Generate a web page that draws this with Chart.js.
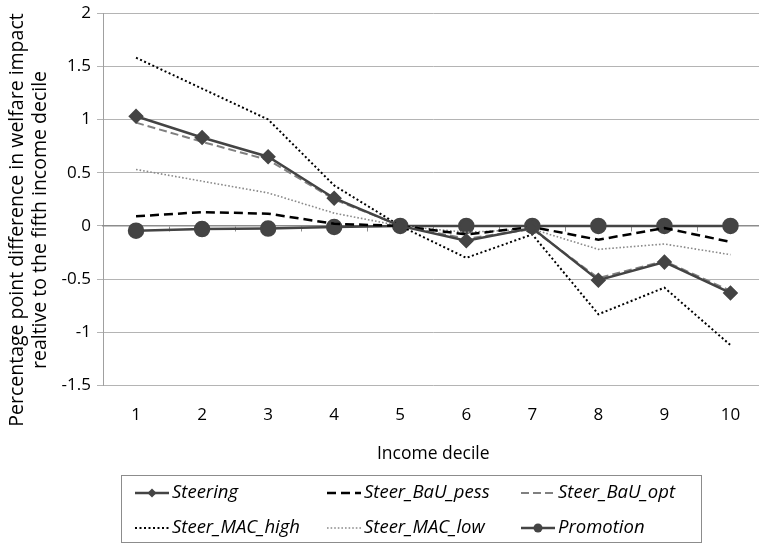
<!DOCTYPE html>
<html>
<head>
<meta charset="utf-8">
<script src="https://cdn.jsdelivr.net/npm/chart.js@4.4.1/dist/chart.umd.min.js"></script>
<style>
  html, body { margin: 0; padding: 0; background: #fff; overflow: hidden; }
  #chart { display: block; }
</style>
</head>
<body>
<canvas id="chart" width="773" height="543"></canvas>
<script>
// income deciles on the x axis
var deciles = ['1', '2', '3', '4', '5', '6', '7', '8', '9', '10'];

// values (percentage points, relative to decile 5)
var steering     = [1.03, 0.83, 0.65, 0.26, 0, -0.14, -0.02, -0.51, -0.34, -0.63];
var steerBauPess = [0.09, 0.13, 0.115, 0.02, 0, -0.08, -0.01, -0.13, -0.02, -0.15];
var steerBauOpt  = [0.97, 0.79, 0.62, 0.25, 0, -0.12, -0.03, -0.49, -0.33, -0.61];
var steerMacHigh = [1.58, 1.29, 1.0, 0.38, 0, -0.30, -0.08, -0.83, -0.58, -1.12];
var steerMacLow  = [0.53, 0.42, 0.31, 0.12, 0, -0.06, -0.03, -0.22, -0.17, -0.27];
var promotion    = [-0.045, -0.03, -0.025, -0.01, 0, 0, 0, 0, 0, 0];

var yTicks = [-1.5, -1, -0.5, 0, 0.5, 1, 1.5, 2];
var yTitle = ['Percentage point difference in welfare impact', 'realtive to the fifth income decile'];

var FONT = "'Open Sans', 'DejaVu Sans', sans-serif";

// y title sits a bit lower than the plot centre in the original, so draw it here
var yTitlePlugin = {
  id: 'yTitlePlugin',
  afterDraw: function(chart) {
    var ctx = chart.ctx;
    ctx.save();
    ctx.translate(17, 220);
    ctx.rotate(-Math.PI / 2);
    ctx.fillStyle = '#000';
    ctx.font = '19.5px ' + FONT;
    ctx.textAlign = 'center';
    ctx.textBaseline = 'middle';
    yTitle.forEach(function(t, i) { ctx.fillText(t, 0, i * 23); });
    ctx.restore();
  }
};

// legend drawn inside the canvas, Excel style box with 3 columns
var boxLegend = {
  id: 'boxLegend',
  afterDraw: function(chart) {
    var ctx = chart.ctx;
    var cols = [135, 327, 521];
    var rows = [493, 528];
    ctx.save();
    ctx.strokeStyle = '#8c8c8c';
    ctx.lineWidth = 1;
    ctx.strokeRect(121.5, 475.5, 580, 67);
    chart.data.datasets.forEach(function(ds, i) {
      var x = cols[i % 3], y = rows[Math.floor(i / 3)];
      ctx.save();
      ctx.strokeStyle = ds.borderColor;
      ctx.lineWidth = ds.borderWidth;
      ctx.setLineDash(ds.borderDash || []);
      ctx.beginPath();
      ctx.moveTo(x, y);
      ctx.lineTo(x + 34, y);
      ctx.stroke();
      ctx.setLineDash([]);
      if (ds.pointRadius > 0) {
        ctx.fillStyle = ds.pointBackgroundColor;
        ctx.beginPath();
        if (ds.pointStyle === 'rectRot') {
          var r = 4.5;
          ctx.moveTo(x + 17, y - r);
          ctx.lineTo(x + 17 + r, y);
          ctx.lineTo(x + 17, y + r);
          ctx.lineTo(x + 17 - r, y);
          ctx.closePath();
        } else {
          ctx.arc(x + 17, y, 4.5, 0, Math.PI * 2);
        }
        ctx.fill();
      }
      ctx.restore();
      ctx.fillStyle = '#000';
      ctx.font = 'italic 18.5px ' + FONT;
      ctx.textBaseline = 'middle';
      ctx.fillText(ds.label, x + 37, y);
    });
    ctx.restore();
  }
};

new Chart(document.getElementById('chart'), {
  type: 'line',
  data: {
    labels: deciles,
    datasets: [
      { label: 'Steering', data: steering, borderColor: '#444444', borderWidth: 2.5,
        pointStyle: 'rectRot', pointRadius: 6, pointBackgroundColor: '#444444', pointBorderColor: '#444444' },
      { label: 'Steer_BaU_pess', data: steerBauPess, borderColor: '#000000', borderWidth: 2.5,
        borderDash: [9, 5], pointRadius: 0 },
      { label: 'Steer_BaU_opt', data: steerBauOpt, borderColor: '#808080', borderWidth: 2,
        borderDash: [8, 4], pointRadius: 0 },
      { label: 'Steer_MAC_high', data: steerMacHigh, borderColor: '#000000', borderWidth: 2,
        borderDash: [2, 2.5], pointRadius: 0 },
      { label: 'Steer_MAC_low', data: steerMacLow, borderColor: '#8a8a8a', borderWidth: 1.6,
        borderDash: [1.6, 2], pointRadius: 0 },
      { label: 'Promotion', data: promotion, borderColor: '#444444', borderWidth: 2.5,
        pointStyle: 'circle', pointRadius: 7, pointBackgroundColor: '#444444', pointBorderColor: '#444444' }
    ]
  },
  options: {
    responsive: false,
    animation: false,
    devicePixelRatio: 1,
    layout: { padding: { top: 13, right: 6, bottom: 74, left: 0 } },
    plugins: { legend: { display: false }, tooltip: { enabled: false } },
    elements: { line: { tension: 0 } },
    scales: {
      y: {
        min: -1.5, max: 2,
        afterBuildTicks: function(scale) {
          scale.ticks = yTicks.map(function(v) { return { value: v }; });
        },
        afterFit: function(scale) {
          scale.width = 103;
          scale.paddingTop = 0;
          scale.paddingBottom = 0;
        },
        ticks: { color: '#000', font: { family: FONT, size: 17 }, padding: 6,
          callback: function(v) { return String(v); } },
        grid: { color: '#b4b4b4', lineWidth: 1, tickLength: 6 },
        border: { color: '#a0a0a0' }
      },
      x: {
        position: 'bottom',
        offset: true,
        grid: { display: false, drawTicks: false },
        border: { display: false },
        ticks: { color: '#000', font: { family: FONT, size: 17 }, padding: 19, maxRotation: 0 },
        title: { display: true, text: 'Income decile', color: '#000',
          font: { family: FONT, size: 17.5 }, padding: { top: 0, bottom: 4 } }
      },
      x0: {
        type: 'category',
        axis: 'x',
        position: { y: 0 },
        offset: true,
        ticks: { display: false },
        grid: { drawOnChartArea: false, offset: true, tickLength: 5, color: '#8c8c8c' },
        border: { color: '#8c8c8c', width: 1.5 }
      }
    }
  },
  plugins: [yTitlePlugin, boxLegend]
});
</script>
</body>
</html>
